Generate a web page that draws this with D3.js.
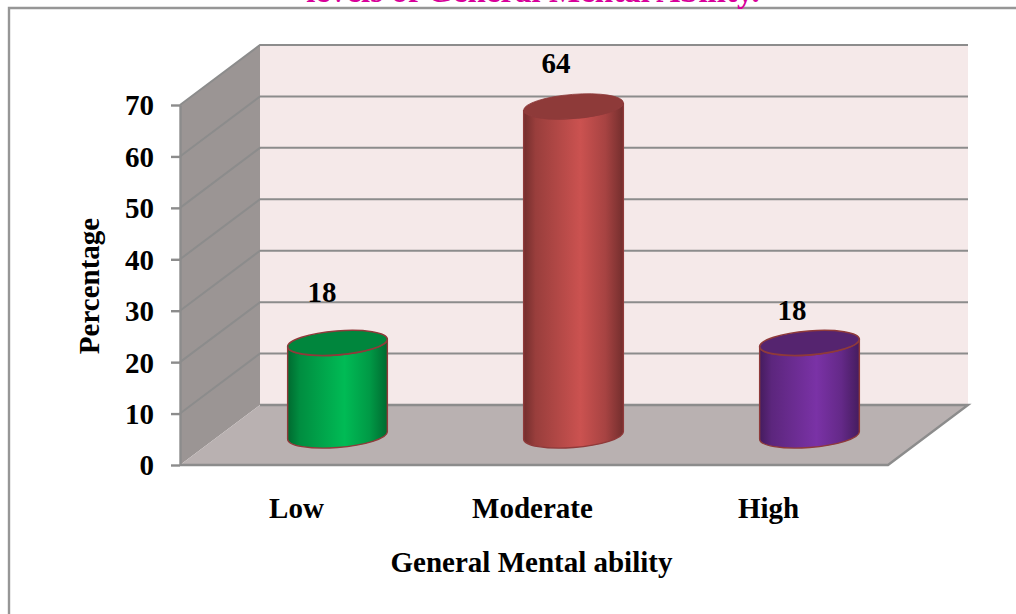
<!DOCTYPE html>
<html>
<head>
<meta charset="utf-8">
<script src="https://cdn.jsdelivr.net/npm/d3@7/dist/d3.min.js"></script>
<style>
  html, body { margin: 0; padding: 0; background: #fff; overflow: hidden; }
  svg { display: block; }
  text { font-family: "Liberation Serif", serif; font-weight: bold; fill: #000; }
</style>
</head>
<body>
<svg id="chart" width="1016" height="614"></svg>
<script>
const categories = ["Low", "Moderate", "High"];
const percentages = [18, 64, 18];
const yTicks = [0, 10, 20, 30, 40, 50, 60, 70];
const barBaseColors = ["#00bb55", "#cb5250", "#7a32a6"];
const barTopColors = ["#00863d", "#8e3a39", "#55246f"];
const barEdgeColors = ["#8f3a3a", "#8f3a3a", "#8f3a3a"];
const titleText = "levels of General Mental Ability.";
const xAxisTitle = "General Mental ability";
const yAxisTitle = "Percentage";

const width = 1016, height = 614;
const svg = d3.select("#chart");
const labelSize = 29;

// Oblique projection of the 3-D box: the back wall sits up and to the right of the front edge.
const depthX = 80, depthY = -60;
const frontLeft = 180, frontRight = 888;
const y = d3.scaleLinear().domain([0, 70]).range([465, 105]);
const x = d3.scaleBand().domain(categories).range([frontLeft, frontRight]);

const ink = "#8c8c8c";
const line = d3.line();

// Chart frame, running off the right and bottom of the page
svg.append("path")
  .attr("d", line([[9, height + 2], [9, 8], [width + 2, 8]]))
  .attr("fill", "none").attr("stroke", "#969696").attr("stroke-width", 2.4);

svg.append("text")
  .attr("x", 533).attr("y", 2)
  .attr("text-anchor", "middle")
  .attr("font-size", 33)
  .style("fill", "#d8009a")
  .text(titleText);

// Back wall, side wall, floor
svg.append("rect")
  .attr("x", frontLeft + depthX).attr("y", y(70) + depthY)
  .attr("width", frontRight - frontLeft).attr("height", y(0) - y(70))
  .attr("fill", "#f5e9e9");
svg.append("path")
  .attr("d", line([[frontLeft, y(0)], [frontLeft, y(70)],
                   [frontLeft + depthX, y(70) + depthY], [frontLeft + depthX, y(0) + depthY]]) + "Z")
  .attr("fill", "#9b9594");
svg.append("path")
  .attr("d", line([[frontLeft, y(0)], [frontLeft + depthX, y(0) + depthY],
                   [frontRight + depthX, y(0) + depthY], [frontRight, y(0)]]) + "Z")
  .attr("fill", "#b9b1b1");

// Gridlines wrap from the side wall across the back wall
const grid = svg.append("g").attr("fill", "none").attr("stroke", ink);
yTicks.forEach(t => {
  if (t > 0) {
    grid.append("path").attr("stroke-width", 2)
      .attr("d", line([[frontLeft, y(t)], [frontLeft + depthX, y(t) + depthY],
                       [frontRight + depthX, y(t) + depthY]]));
  }
});
grid.append("path").attr("stroke-width", 2.4)
  .attr("d", line([[frontLeft + depthX, y(0) + depthY], [frontRight + depthX, y(0) + depthY], [frontRight, y(0)], [frontLeft, y(0)]]));

// Value axis with outward ticks
const yAxis = svg.append("g")
  .attr("transform", `translate(${frontLeft},0)`)
  .call(d3.axisLeft(y).tickValues(yTicks).tickSize(9).tickPadding(17).tickSizeOuter(0));
yAxis.select(".domain").attr("stroke", ink).attr("stroke-width", 2.4);
yAxis.selectAll(".tick line").attr("stroke", ink).attr("stroke-width", 2.4);
yAxis.selectAll(".tick text").attr("font-size", labelSize)
  .style("font-family", '"Liberation Serif", serif').attr("dy", "0.34em");

svg.append("text")
  .attr("transform", "translate(99,286) rotate(-90)")
  .attr("text-anchor", "middle").attr("font-size", labelSize).text(yAxisTitle);

// Cylinders stand halfway into the depth of the floor
const defs = svg.append("defs");
const rx = 50, ry = 12, tilt = -4.5;
const midX = depthX / 2 - 0.5, midY = depthY / 2;
const rad = tilt * Math.PI / 180;
// Points where a vertical tangent touches the tilted ellipse, so the sides join it smoothly
const sideX = Math.sqrt(rx * rx * Math.cos(rad) ** 2 + ry * ry * Math.sin(rad) ** 2);
const sideY = (rx * rx - ry * ry) * Math.sin(rad) * Math.cos(rad) / sideX;

categories.forEach((c, i) => {
  const cx = x(c) + x.bandwidth() / 2 + midX;
  const base = y(0) + midY + 0.5;
  const top = y(percentages[i]) + midY + 0.5;
  const col = d3.color(barBaseColors[i]);
  const gid = "cyl" + i;
  const grad = defs.append("linearGradient").attr("id", gid);
  [[0, col.darker(1.6)], [0.12, col.darker(0.8)], [0.57, col], [0.82, col.darker(0.55)], [1, col.darker(1.6)]]
    .forEach(([o, k]) => grad.append("stop").attr("offset", o).attr("stop-color", k));

  const g = svg.append("g");
  // Body: left side, lower half of the base ellipse, right side, back across the top
  g.append("path")
    .attr("d", `M${cx - sideX},${top - sideY}L${cx - sideX},${base - sideY}` +
               `A${rx},${ry} ${tilt} 0 0 ${cx + sideX},${base + sideY}` +
               `L${cx + sideX},${top + sideY}` +
               `A${rx},${ry} ${tilt} 0 1 ${cx - sideX},${top - sideY}Z`)
    .attr("fill", `url(#${gid})`)
    .attr("stroke", barEdgeColors[i]).attr("stroke-width", 1.4);
  g.append("ellipse")
    .attr("cx", 0).attr("cy", 0).attr("rx", rx).attr("ry", ry)
    .attr("transform", `translate(${cx},${top}) rotate(${tilt})`)
    .attr("fill", barTopColors[i])
    .attr("stroke", barEdgeColors[i]).attr("stroke-width", i === 1 ? 0.8 : 1.6);
});

// Value labels
const labelOffsets = [[-16, -40], [-18, -33], [-18, -22]];
categories.forEach((c, i) => {
  svg.append("text")
    .attr("x", x(c) + x.bandwidth() / 2 + depthX / 2 + labelOffsets[i][0])
    .attr("y", y(percentages[i]) + midY + labelOffsets[i][1])
    .attr("text-anchor", "middle").attr("font-size", labelSize)
    .text(percentages[i]);
});

// Category labels
categories.forEach(c => {
  svg.append("text")
    .attr("x", x(c) + x.bandwidth() / 2 - 1.5).attr("y", 518)
    .attr("text-anchor", "middle").attr("font-size", labelSize).text(c);
});

svg.append("text")
  .attr("x", 531.5).attr("y", 572)
  .attr("text-anchor", "middle").attr("font-size", labelSize).text(xAxisTitle);
</script>
</body>
</html>
